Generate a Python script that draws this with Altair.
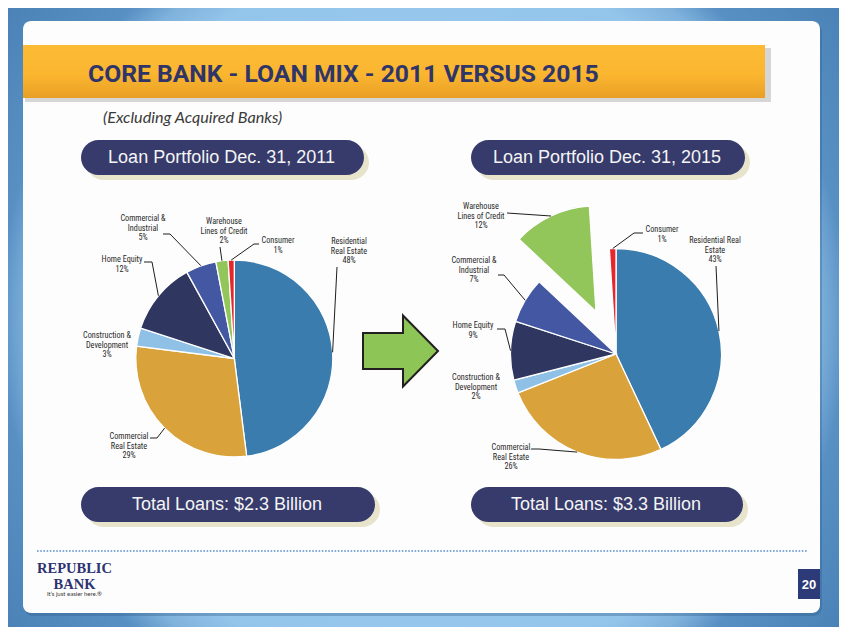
import math
import pandas as pd
import altair as alt

# ---------------- data ----------------
categories = ["Residential Real Estate", "Commercial Real Estate", "Construction & Development",
              "Home Equity", "Commercial & Industrial", "Warehouse Lines of Credit", "Consumer"]
share_2011 = [48, 29, 3, 12, 5, 2, 1]
share_2015 = [43, 26, 2, 9, 7, 12, 1]
slice_colors = ["#3a7cad", "#d9a23b", "#8fc1e7", "#2f3660", "#4357a2", "#92c55a", "#e5262a"]
label_text_2011 = ["Residential\nReal Estate", "Commercial\nReal Estate", "Construction &\nDevelopment",
                   "Home Equity", "Commercial &\nIndustrial", "Warehouse\nLines of Credit", "Consumer"]
label_text_2015 = ["Residential Real\nEstate", "Commercial\nReal Estate", "Construction &\nDevelopment",
                   "Home Equity", "Commercial &\nIndustrial", "Warehouse\nLines of Credit", "Consumer"]
panel_titles = ["Loan Portfolio Dec. 31, 2011", "Loan Portfolio Dec. 31, 2015"]
panel_totals = ["Total Loans: $2.3 Billion", "Total Loans: $3.3 Billion"]
title_text = "CORE BANK - LOAN MIX - 2011 VERSUS 2015"
subtitle_text = "(Excluding Acquired Banks)"
page_number = "20"

# ---------------- layout (page pixel coordinates) ----------------
W, H = 831, 619
XS = alt.Scale(domain=[8, 8 + W], range=[0, W], zero=False, nice=False)
YS = alt.Scale(domain=[8, 8 + H], range=[0, H], zero=False, nice=False)
TS = alt.Scale(domain=[0, 100], range=[0, 2 * math.pi], zero=False, nice=False)

pie_layout = [
    dict(cx=234.3, cy=358.5, r=98.5, explode={},
         # category index -> (label x, first-line y, leader start, elbow)
         labels={0: (349, 243, (337, 267), None),
                 1: (129, 438, (150, 438), (157, 438)),
                 2: (107, 337, None, None),
                 3: (122, 261, (144, 262), (152, 262)),
                 4: (143, 220, (163, 234), (170, 234)),
                 5: (224, 223, (220, 247), None),
                 6: (278, 242, (259, 244), (254, 244))}),
    dict(cx=616.0, cy=354.0, r=105.5, explode={5: 47},
         labels={0: (715, 242, (716, 266), None),
                 1: (511, 449, (531, 449), (539, 449)),
                 2: (476, 379, None, None),
                 3: (473, 327, (497, 329), (505, 329)),
                 4: (474, 262, (498, 275), (504, 275)),
                 5: (481, 208, (507, 213), None),
                 6: (662, 231, (643, 233), (634, 233))}),
]

LABEL_FONT = "Liberation Sans Narrow, Roboto Condensed, Lato, sans-serif"

# ---------------- build tables ----------------
arc_rows, lead_rows, lab_rows = [], [], []
for p, (shares, texts) in enumerate([(share_2011, label_text_2011), (share_2015, label_text_2015)]):
    L = pie_layout[p]
    cum = 0.0
    for i, (cat, v) in enumerate(zip(categories, shares)):
        t0, t1 = cum, cum + v
        cum = t1
        mid = (t0 + t1) / 2 / 100 * 2 * math.pi
        d = L["explode"].get(i, 0)
        cx = L["cx"] + d * math.sin(mid)
        cy = L["cy"] - d * math.cos(mid)
        arc_rows.append(dict(pie=p, cat=cat, t0=t0, t1=t1, cx=cx, cy=cy, r=L["r"], color=slice_colors[i]))
        lx, ly, start, elbow = L["labels"][i]
        lab_rows.append(dict(x=lx, y=ly - 5, t=f"{texts[i]}\n{v}%"))
        if start is not None:
            ex = cx + L["r"] * math.sin(mid)
            ey = cy - L["r"] * math.cos(mid)
            pts = [start] + ([elbow] if elbow else []) + [(ex, ey)]
            for k, (px_, py_) in enumerate(pts):
                lead_rows.append(dict(id=f"{p}-{i}", k=k, x=px_, y=py_))

arc_df = pd.DataFrame(arc_rows)
lead_df = pd.DataFrame(lead_rows)
lab_df = pd.DataFrame(lab_rows)


def px(f):
    return alt.X(f"{f}:Q", scale=XS, axis=None)


def py(f):
    return alt.Y(f"{f}:Q", scale=YS, axis=None)


def box(x0, y0, x1, y1, **mk):
    d = pd.DataFrame({"x0": [x0], "y0": [y0], "x1": [x1], "y1": [y1]})
    return alt.Chart(d).mark_rect(**mk).encode(x=px("x0"), x2="x1:Q", y=py("y0"), y2="y1:Q")


def txt(x, y, s, **mk):
    d = pd.DataFrame({"x": [x], "y": [y], "t": [s]})
    return alt.Chart(d).mark_text(**mk).encode(x=px("x"), y=py("y"), text="t:N")


bg_grad = alt.RadialGradient(
    gradient="radial", x1=0.5, y1=0.5, r1=0, x2=0.5, y2=0.5, r2=0.72,
    stops=[alt.GradientStop(offset=0, color="#a6d2f2"),
           alt.GradientStop(offset=0.6, color="#93c4ea"),
           alt.GradientStop(offset=0.66, color="#7fb2dc"),
           alt.GradientStop(offset=0.71, color="#5890c4"),
           alt.GradientStop(offset=1, color="#3f77ac")])
bar_grad = alt.LinearGradient(
    gradient="linear", x1=0, y1=0, x2=0, y2=1,
    stops=[alt.GradientStop(offset=0, color="#fcbb35"),
           alt.GradientStop(offset=0.55, color="#fbb630"),
           alt.GradientStop(offset=1, color="#e89f25")])

layers = []
layers.append(box(8, 8, 8 + W, 8 + H, fill=bg_grad))
layers.append(box(24, 23, 822, 616, color="#2f5d8a", opacity=0.35, cornerRadius=9))
layers.append(box(23, 21, 820, 613, color="#fdfdfd", cornerRadius=8))
layers.append(box(25, 48, 771, 102, color="#8c8c8c", opacity=0.35))
layers.append(box(23, 45, 765, 98, fill=bar_grad))
layers.append(txt(88, 82, title_text, align="left", baseline="alphabetic", font="Roboto",
                  fontWeight="bold", fontSize=24.7, color="#2f3568"))
layers.append(txt(103, 123, subtitle_text, align="left", baseline="alphabetic", font="Lato",
                  fontStyle="italic", fontSize=16.2, color="#3a3a3a"))

pills = [(81, 140, 364, 175, panel_titles[0]), (471, 140, 745, 175, panel_titles[1]),
         (81, 487, 375, 522, panel_totals[0]), (471, 487, 743, 522, panel_totals[1])]
for x0, y0, x1, y1, s in pills:
    layers.append(box(x0 + 5, y0 + 5, x1 + 5, y1 + 5, color="#e8e4cc", cornerRadius=17.5))
for x0, y0, x1, y1, s in pills:
    layers.append(box(x0, y0, x1, y1, color="#363b6c", cornerRadius=17.5))
    layers.append(txt((x0 + x1) / 2 - 1, (y0 + y1) / 2 + 0.5, s, align="center", baseline="middle",
                      font="Liberation Sans, Arial", fontSize=18, color="#f4f4f4"))

layers.append(alt.Chart(arc_df).mark_arc(stroke="white", strokeWidth=1.3).encode(
    x=px("cx"), y=py("cy"),
    theta=alt.Theta("t0:Q", scale=TS), theta2="t1:Q",
    radius=alt.Radius("r:Q", scale=None),
    fill=alt.Fill("color:N", scale=None)))

layers.append(alt.Chart(lead_df).mark_line(color="#1e1e1e", strokeWidth=1).encode(
    x=px("x"), y=py("y"), detail="id:N", order="k:Q"))

layers.append(alt.Chart(lab_df).mark_text(align="center", baseline="top", lineBreak="\n",
                                          lineHeight=9.7, fontSize=8.2, font=LABEL_FONT,
                                          color="#2a2a2a").encode(
    x=px("x"), y=py("y"), text="t:N"))

arrow_path = "M-1,-0.48L0.067,-0.48L0.067,-0.947L1,0L0.067,0.947L0.067,0.48L-1,0.48Z"
arrow_df = pd.DataFrame({"x": [400.5], "y": [351]})
layers.append(alt.Chart(arrow_df).mark_point(shape=arrow_path, size=75 * 75, filled=True,
                                             fill="#8dc656", stroke="#231f20", strokeWidth=2,
                                             opacity=1).encode(x=px("x"), y=py("y")))

rule_df = pd.DataFrame({"x0": [37], "x1": [808], "y": [551]})
layers.append(alt.Chart(rule_df).mark_rule(color="#5b8ec7", strokeWidth=1.6, strokeDash=[1.6, 1.6]).encode(
    x=px("x0"), x2="x1:Q", y=py("y")))

LOGO = "#2e3270"
layers.append(txt(74.5, 573, "REPUBLIC", align="center", baseline="alphabetic", font="Liberation Serif",
                  fontWeight="bold", fontSize=14.5, color=LOGO))
layers.append(txt(74.5, 588.5, "BANK", align="center", baseline="alphabetic", font="Liberation Serif",
                  fontWeight="bold", fontSize=14.5, color=LOGO))
layers.append(txt(74.5, 596, "It\u2019s just easier here.\u00ae", align="center", baseline="alphabetic",
                  font="Lato", fontSize=6, color="#333333"))

layers.append(box(798, 569, 820, 599, color="#2c3a78"))
layers.append(txt(809, 584.5, page_number, align="center", baseline="middle", font="Liberation Sans",
                  fontWeight="bold", fontSize=13, color="white"))

chart = alt.layer(*layers).properties(
    width=W, height=H, padding=0, autosize=alt.AutoSizeParams(type="none")
).configure_view(stroke=None).configure(background="white")

chart.save("out.html", embed_options={"renderer": "svg", "actions": False})
